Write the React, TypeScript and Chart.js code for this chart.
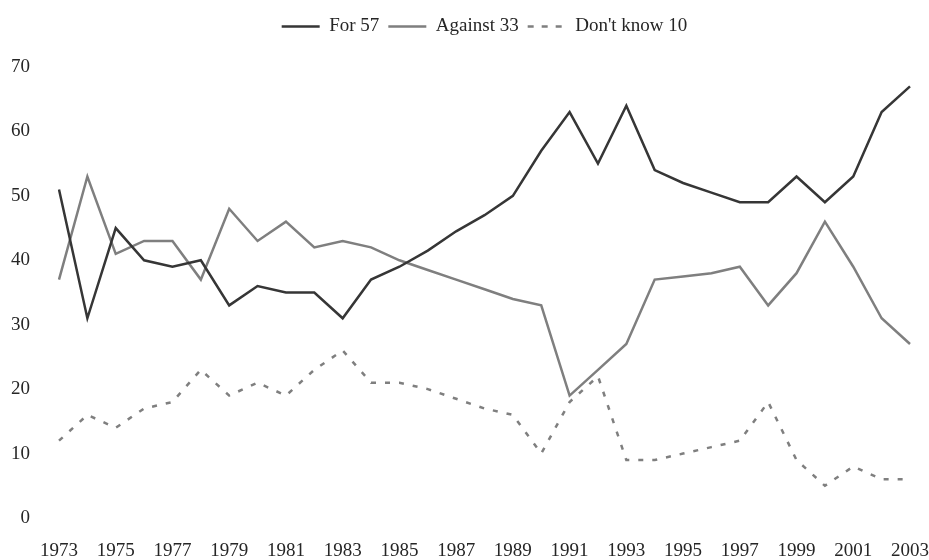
import React, { useEffect, useRef } from "react";
import { Chart, registerables } from "chart.js";

Chart.register(...registerables);

const years = [
  "1973", "1974", "1975", "1976", "1977", "1978", "1979", "1980", "1981", "1982",
  "1983", "1984", "1985", "1986", "1987", "1988", "1989", "1990", "1991", "1992",
  "1993", "1994", "1995", "1996", "1997", "1998", "1999", "2000", "2001", "2002", "2003",
];

const forValues = [
  51, 31, 45, 40, 39, 40, 33, 36, 35, 35,
  31, 37, 39, 41.5, 44.5, 47, 50, 57, 63, 55,
  64, 54, 52, 50.5, 49, 49, 53, 49, 53, 63, 67,
];

const againstValues = [
  37, 53, 41, 43, 43, 37, 48, 43, 46, 42,
  43, 42, 40, 38.5, 37, 35.5, 34, 33, 19, 23,
  27, 37, 37.5, 38, 39, 33, 38, 46, 39, 31, 27,
];

const dontKnowValues = [
  12, 16, 14, 17, 18, 23, 19, 21, 19, 23,
  26, 21, 21, 20, 18.5, 17, 16, 10, 18, 22,
  9, 9, 10, 11, 12, 18, 9, 5, 8, 6, 6,
];

const seriesNames = ["For 57", "Against 33", "Don't know 10"];

const yMin = 0;
const yMax = 70;
const yStep = 10;

const FONT = "'Liberation Serif', 'Times New Roman', serif";
const TEXT = "#262626";

const legendSpacing = {
  id: "legendSpacing",
  beforeInit(chart: any) {
    const legend = chart.legend;
    if (!legend) return;
    const orig = legend.fit;
    legend.fit = function () {
      orig.call(this);
      this.height += 21;
    };
  },
};

export default function App() {
  const ref = useRef<HTMLCanvasElement | null>(null);

  useEffect(() => {
    if (!ref.current) return;
    const chart = new Chart(ref.current, {
      type: "line",
      plugins: [legendSpacing],
      data: {
        labels: years,
        datasets: [
          {
            label: seriesNames[0],
            data: forValues,
            borderColor: "#363636",
            backgroundColor: "#363636",
            borderWidth: 2.5,
            pointRadius: 0,
            tension: 0,
          },
          {
            label: seriesNames[1],
            data: againstValues,
            borderColor: "#7f7f7f",
            backgroundColor: "#7f7f7f",
            borderWidth: 2.5,
            pointRadius: 0,
            tension: 0,
          },
          {
            label: seriesNames[2],
            data: dontKnowValues,
            borderColor: "#7f7f7f",
            backgroundColor: "#7f7f7f",
            borderWidth: 2.5,
            borderDash: [5, 9],
            pointRadius: 0,
            tension: 0,
          },
        ],
      },
      options: {
        responsive: false,
        animation: false,
        layout: { padding: { left: 11, right: 2, top: 8, bottom: 0 } },
        plugins: {
          tooltip: { enabled: false },
          legend: {
            display: true,
            position: "top",
            fullSize: false,
            labels: {
              usePointStyle: false,
              boxWidth: 38,
              boxHeight: 0,
              padding: 9,
              color: TEXT,
              font: { family: FONT, size: 19 },
            },
          },
        },
        scales: {
          x: {
            type: "category",
            offset: false,
            grid: { display: false, drawTicks: false },
            border: { display: false },
            ticks: {
              autoSkip: false,
              maxRotation: 0,
              minRotation: 0,
              padding: 22,
              color: TEXT,
              font: { family: FONT, size: 19 },
              callback: (_v: any, i: number) => (i % 2 === 0 ? years[i] : ""),
            },
            afterFit: (scale: any) => {
              scale.height = 42;
              scale.paddingLeft = 19;
              scale.paddingRight = 19;
            },
          },
          y: {
            min: yMin,
            max: yMax,
            grid: { display: false, drawTicks: false },
            border: { display: false },
            ticks: {
              stepSize: yStep,
              padding: 29,
              color: TEXT,
              font: { family: FONT, size: 19 },
            },
            afterFit: (scale: any) => {
              scale.width = 48;
            },
          },
        },
      },
    });
    return () => chart.destroy();
  }, []);

  return (
    <div style={{ position: "absolute", left: 0, top: 0, width: 929, height: 560, background: "#fff" }}>
      <canvas ref={ref} width={929} height={560} style={{ display: "block" }} />
    </div>
  );
}
